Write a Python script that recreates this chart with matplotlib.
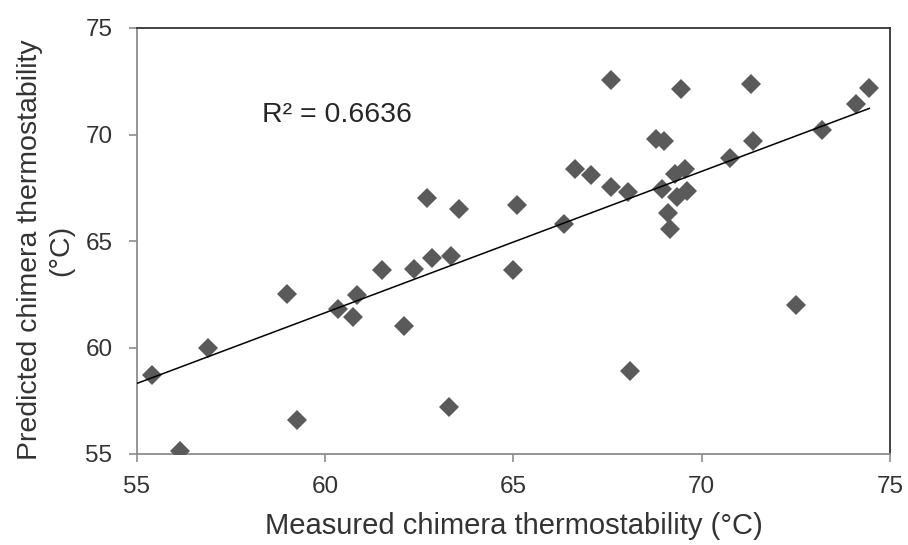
import numpy as np
import matplotlib
matplotlib.use("Agg")
import matplotlib.pyplot as plt

plt.rcParams['font.family'] = ['Liberation Sans', 'DejaVu Sans']

# measured vs predicted chimera thermostability (deg C)
measured = [55.4, 56.15, 56.9, 59.0, 59.25, 60.35, 60.75, 60.85, 61.5, 62.1,
            62.35, 62.7, 62.85, 63.3, 63.35, 63.55, 65.0, 65.1, 66.35, 66.65,
            67.05, 67.6, 67.6, 68.05, 68.1, 68.8, 69.0, 68.95, 69.1, 69.15,
            69.3, 69.55, 69.35, 69.6, 69.45, 70.75, 71.3, 71.35, 72.5, 73.2,
            74.1, 74.45]
predicted = [58.7, 55.15, 60.0, 62.5, 56.6, 61.8, 61.45, 62.45, 63.65, 61.0,
             63.7, 67.0, 64.2, 57.2, 64.3, 66.5, 63.65, 66.7, 65.8, 68.4,
             68.1, 72.55, 67.55, 67.3, 58.9, 69.8, 69.7, 67.45, 66.3, 65.55,
             68.15, 68.4, 67.05, 67.35, 72.15, 68.9, 72.35, 69.7, 62.0, 70.2,
             71.45, 72.2]

# excel linear trendline as drawn (slope, intercept) and its label
trend_slope = 0.664
trend_intercept = 21.79
r2_label = "R² = 0.6636"

ticks = [55, 60, 65, 70, 75]

x = np.array(measured)
y = np.array(predicted)

fig = plt.figure(figsize=(9.08, 5.45), dpi=100)
ax = fig.add_axes([136.7 / 908, 1 - 454 / 545, (890 - 136.7) / 908, (454 - 28) / 545])

ax.plot(x, y, linestyle='none', marker='D', markersize=10,
        color='#5a5a5a', markeredgewidth=0, zorder=3)

xs = np.array([55.0, x.max()])
ax.plot(xs, trend_slope * xs + trend_intercept, color='black', linewidth=1.1, zorder=4)

ax.text(58.32, 70.92, r2_label, fontsize=20.5, color='#262626', va='center')

ax.set_xlim(55, 75)
ax.set_ylim(55, 75)
ax.set_xticks(ticks)
ax.set_yticks(ticks)

for side in ['top', 'right']:
    ax.spines[side].set_color('#333333')
    ax.spines[side].set_linewidth(1.3)
for side in ['left', 'bottom']:
    ax.spines[side].set_color('#8c8c8c')
    ax.spines[side].set_linewidth(1.3)

ax.tick_params(axis='both', direction='out', length=5.5, width=1.2,
               color='#8c8c8c', labelsize=17.5, labelcolor='#333333')
ax.tick_params(axis='x', pad=10)
ax.tick_params(axis='y', pad=12)

# axis titles placed like the excel chart
fig.text(514 / 908, 1 - 534 / 545, "Measured chimera thermostability (°C)",
         fontsize=21, color='#333333', ha='center', va='baseline')
fig.text(46 / 908, 1 - 250 / 545, "Predicted chimera thermostability\n(°C)",
         fontsize=20.5, color='#333333', ha='center', va='center',
         rotation=90, linespacing=1.25, multialignment='center')

fig.savefig("out.png", dpi=100)
